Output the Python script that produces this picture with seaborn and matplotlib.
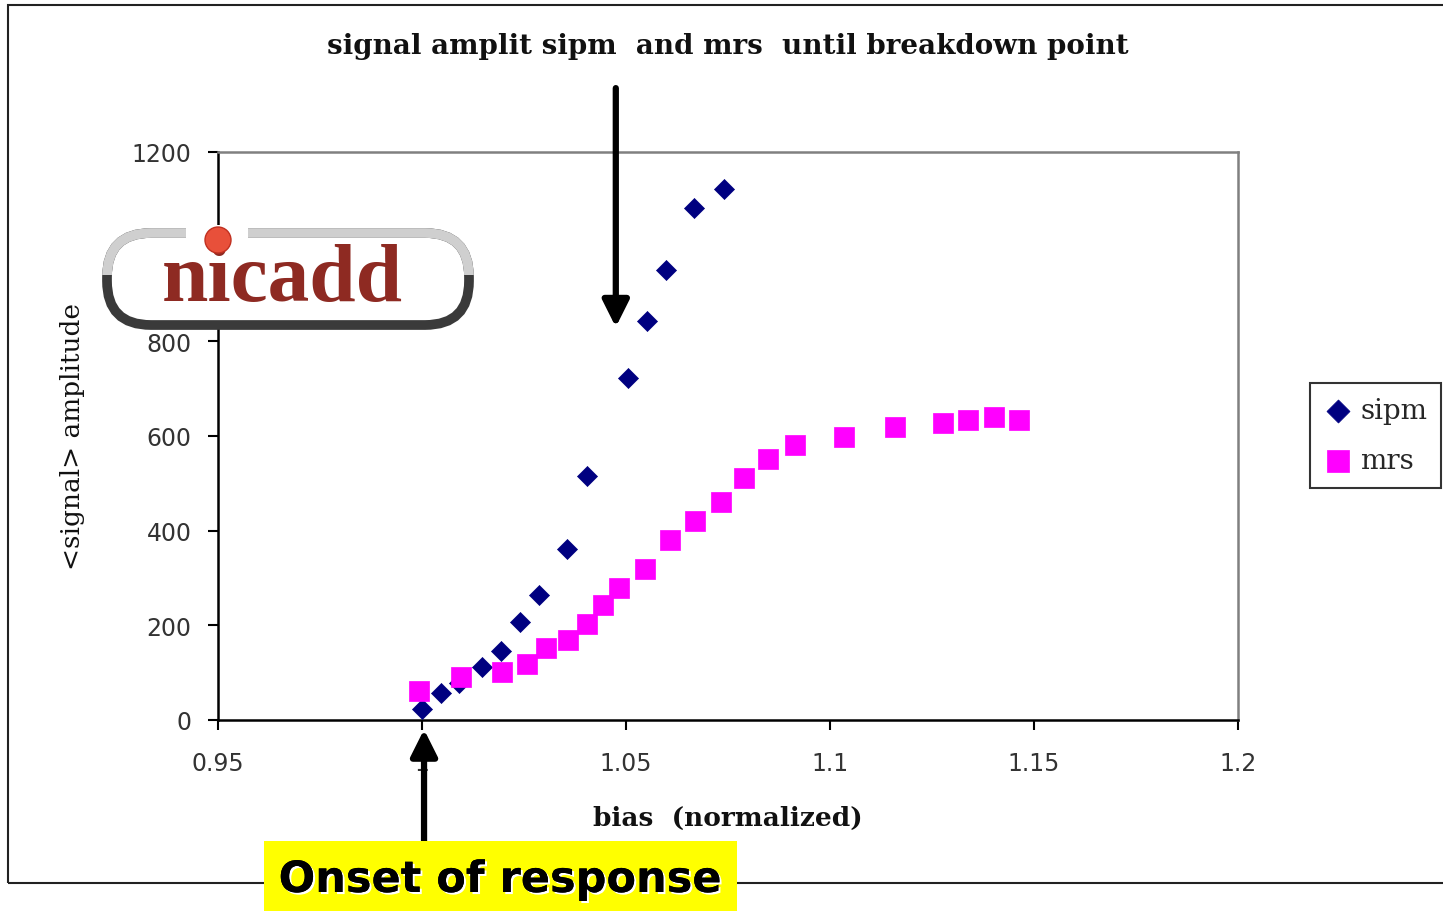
import matplotlib
matplotlib.use("Agg")
import matplotlib.pyplot as plt
import matplotlib.patheffects as pe
from matplotlib.patches import Rectangle, FancyBboxPatch, Circle
import seaborn as sns
import pandas as pd

# ---- data ----
sipm_bias = [1.0000, 1.0046, 1.0091, 1.0146, 1.0193, 1.0240, 1.0287, 1.0355,
             1.0404, 1.0506, 1.0552, 1.0598, 1.0667, 1.0739]
sipm_amp = [23, 58, 78, 111, 145, 206, 264, 361, 515, 723, 842, 951, 1082, 1122]

mrs_bias = [0.9993, 1.0096, 1.0195, 1.0257, 1.0303, 1.0357, 1.0404, 1.0444,
            1.0484, 1.0547, 1.0609, 1.0670, 1.0734, 1.0788, 1.0849, 1.0913,
            1.1035, 1.1160, 1.1278, 1.1339, 1.1403, 1.1464]
mrs_amp = [61, 91, 101, 119, 153, 169, 203, 244, 278, 319, 381, 420, 460, 512,
           551, 582, 598, 618, 628, 634, 640, 634]

x_ticks = [0.95, 1.0, 1.05, 1.1, 1.15, 1.2]
x_tick_labels = ["0.95", "1", "1.05", "1.1", "1.15", "1.2"]
y_ticks = [0, 200, 400, 600, 800, 1000, 1200]
y_tick_labels = ["0", "200", "400", "600", "800", "", "1200"]  # 1000 hidden under logo

title = "signal amplit sipm  and mrs  until breakdown point"
xlabel = "bias  (normalized)"
ylabel = "<signal> amplitude"
callout = "Onset of response"
logo_text = "nicadd"

sipm_df = pd.DataFrame({"bias": sipm_bias, "amp": sipm_amp, "series": "sipm"})
mrs_df = pd.DataFrame({"bias": mrs_bias, "amp": mrs_amp, "series": "mrs"})

sns.set_theme(style="white")
plt.rcParams["font.family"] = ["DejaVu Sans"]

W, H = 1443, 912
fig = plt.figure(figsize=(W / 100, H / 100), dpi=100)
fig.patch.set_facecolor("white")

ax = fig.add_axes([218 / W, (H - 721) / H, 1020 / W, 568 / H])
ax.set_facecolor("white")

sns.scatterplot(data=sipm_df, x="bias", y="amp", ax=ax, marker="D", s=104,
                color="#000080", edgecolor="#000080", linewidth=0.5,
                label="sipm", zorder=3)
sns.scatterplot(data=mrs_df, x="bias", y="amp", ax=ax, marker="s", s=200,
                color="#FF00FF", edgecolor="#FF00FF", linewidth=0.5,
                label="mrs", zorder=4)

ax.set_xlim(0.95, 1.2)
ax.set_ylim(0, 1200)
ax.set_xticks(x_ticks)
ax.set_xticklabels(x_tick_labels)
ax.set_yticks(y_ticks)
ax.set_yticklabels(y_tick_labels)
ax.tick_params(axis="both", direction="out", length=7, width=1.5, color="black",
               labelsize=17, labelcolor="#333333", bottom=True, left=True)
ax.tick_params(axis="x", pad=15)
ax.tick_params(axis="y", pad=12)
ax.spines["left"].set_color("black")
ax.spines["bottom"].set_color("black")
ax.spines["left"].set_linewidth(1.8)
ax.spines["bottom"].set_linewidth(1.8)
ax.spines["top"].set_color("#808080")
ax.spines["right"].set_color("#808080")
ax.spines["top"].set_linewidth(1.8)
ax.spines["right"].set_linewidth(1.8)
ax.grid(False)

ax.set_xlabel(xlabel, family=["DejaVu Serif"], fontsize=19, fontweight="bold",
              labelpad=22, color="#111111")
ax.set_ylabel(ylabel, family=["DejaVu Serif"], fontsize=19,
              labelpad=34, color="#111111")
fig.text(728 / W, 1 - 47 / H, title, ha="center", va="center",
         family=["DejaVu Serif"], fontsize=20, fontweight="bold", color="#111111")

leg = ax.legend(loc="upper left", bbox_to_anchor=((1310 - 218) / 1020, (721 - 384) / 568),
                frameon=True, fancybox=False, edgecolor="black", borderaxespad=0,
                prop={"family": ["DejaVu Serif"], "size": 20},
                handletextpad=0.3, borderpad=0.5, labelspacing=0.85, handlelength=1.0,
                markerscale=1.15)
leg.get_frame().set_linewidth(1.5)

# Outer chart border
fig.add_artist(Rectangle((8 / W, (H - 884) / H), 1.2, (884 - 6) / H,
                         transform=fig.transFigure, fill=False,
                         edgecolor="#222222", linewidth=1.5, zorder=0))

# Arrows
arrow_kw = dict(arrowstyle="-|>,head_length=1.0,head_width=0.5", color="black",
                lw=4.5, mutation_scale=16, shrinkA=0, shrinkB=0)
ax.annotate("", xy=(1.0475, 830), xytext=(1.0475, 1335), xycoords="data",
            textcoords="data", arrowprops=arrow_kw, annotation_clip=False, zorder=6)
ax.annotate("", xy=(1.0005, -20), xytext=(1.0005, -255), xycoords="data",
            textcoords="data", arrowprops=arrow_kw, annotation_clip=False, zorder=6)

# Yellow callout
fig.add_artist(Rectangle((264 / W, 0), (737 - 264) / W, (912 - 842) / H,
                         transform=fig.transFigure, facecolor="#FFFF00",
                         edgecolor="none", zorder=5))
fig.text(500 / W, 1 - 881 / H, callout, ha="center", va="center", fontsize=31,
         fontweight="bold", color="black", zorder=6,
         path_effects=[pe.withSimplePatchShadow(offset=(1.5, -1.5),
                                                shadow_rgbFace="white", alpha=1.0),
                       pe.Normal()])

# Logo (nicadd)
inch = fig.dpi_scale_trans
lx0, lx1, ly_top, ly_bot = 1.07, 4.69, (H - 234) / 100, (H - 326) / 100
box_dark = FancyBboxPatch((lx0, ly_bot), lx1 - lx0, ly_top - ly_bot,
                          boxstyle="round,pad=0,rounding_size=0.44",
                          transform=inch, facecolor="white", edgecolor="#3a3a3a",
                          linewidth=7, zorder=7)
fig.add_artist(box_dark)
box_light = FancyBboxPatch((lx0, ly_bot), lx1 - lx0, ly_top - ly_bot,
                           boxstyle="round,pad=0,rounding_size=0.44",
                           transform=inch, facecolor="none", edgecolor="#cfcfcf",
                           linewidth=7, zorder=7.1)
fig.add_artist(box_light)
clip_rect = Rectangle((0, ly_bot + 0.5), 10, 3, transform=inch)
box_light.set_clip_path(clip_rect)
fig.add_artist(Rectangle((1.86, ly_top - 0.08), 0.62, 0.16, transform=inch,
                         facecolor="white", edgecolor="none", zorder=7.2))
fig.text(2.82 / (W / 100), (H - 282) / H, logo_text, ha="center", va="center",
         family=["Liberation Serif", "DejaVu Serif"], fontweight="bold",
         fontsize=60, color="#8E2A22", zorder=7.4)
fig.add_artist(Circle((2.18, (H - 241) / 100), 0.13, transform=inch,
                      facecolor="#E8503A", edgecolor="#C03020", linewidth=1, zorder=7.6))

fig.savefig("out.png", dpi=100, facecolor="white")
